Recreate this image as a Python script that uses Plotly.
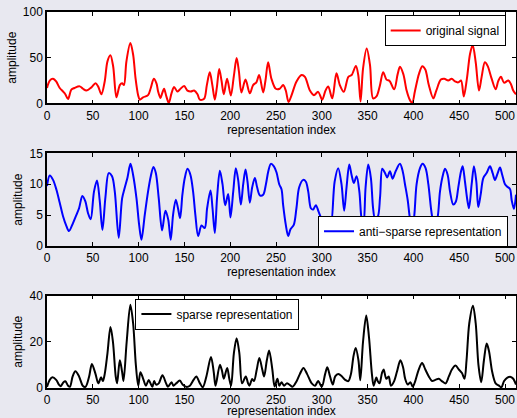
import plotly.graph_objects as go

# ---------------- data ----------------
orig_x = [0, 3, 6.6, 10, 13.9, 17.5, 20, 23, 26.6, 30, 35.7, 39.3, 43, 48.5, 52.9, 55.8, 59.4, 63, 66,
          69.2, 72.2, 75.8, 79.5, 82, 84, 86.7, 91, 94, 96.6, 99.5, 101.3, 104.9, 110.3, 113.3, 116.6,
          119.5, 121.3, 123.9, 125.7, 127.8, 130.3, 133, 135.9, 138.7, 142.3, 144.8, 149.7, 153.3, 157,
          160.6, 164.3, 166.8, 171.5, 174.5, 177.7, 180.5, 183.2, 185.5, 188, 190.5, 193, 196.6, 200.7,
          204, 207, 209.5, 212.3, 216.7, 221.4, 225, 228.6, 231.6, 236, 238.5, 241.4, 245, 249.8, 254,
          257.8, 260.7, 263.7, 267, 272.4, 278, 281.6, 287, 291.4, 296, 300.4, 304, 307, 311.4, 316,
          319.7, 324, 329, 332.6, 337.2, 339.8, 342.3, 345, 349, 352.6, 356, 359.7, 363.3, 367, 370.6,
          374, 379, 382.8, 385.3, 389, 392.6, 396, 398.7, 401.6, 406, 409.7, 413, 416.8, 421.7, 425,
          430, 433.7, 438, 441.8, 445.4, 449, 452, 455, 458.4, 461.8, 464.7, 468, 471.6, 474.5, 478,
          481, 485.4, 489.8, 492.7, 495.6, 499, 503.6, 506.5, 509, 512]
orig_y = [16.8, 25, 27, 24, 16.8, 13, 10, 4.8, 15, 16.8, 18.6, 16, 14, 17.5, 22, 18.6, 10, 24, 46,
          52.7, 40.6, 6.6, 20, 22, 20, 46, 66, 53.5, 28, 9, 4, 6.6, 9, 16.8, 27,
          22, 13, 5.8, 11, 16, 7.6, 0.5, 11, 18, 13, 15, 19, 14, 13,
          14, 10, 4, 5, 20, 34, 20, 4, 18, 37.6, 25, 10, 27, 8.6,
          30, 49.6, 35, 12, 26, 11, 20, 23, 31, 12, 25, 45, 27, 16, 16,
          20, 14, 1.5, 9, 24, 31, 29, 14, 9, 12.6, 4, 14, 18.5, 5.5, 33,
          20, 12.6, 29, 31, 41, 31, 2, 38, 60, 42, 5.5, 7.6, 19, 34, 26,
          24.6, 15.4, 32, 40, 32, 14, 4, 0.5, 13, 32, 40.6, 37, 20, 5.5, 14,
          26, 27, 25, 27, 24, 23, 25, 7.6, 27, 54, 64, 45, 14, 29, 45,
          41, 27, 15.4, 24.6, 29, 22.6, 25, 21, 14, 10]

anti_x = [0, 3, 6.6, 10.3, 13.9, 17.5, 21.2, 24, 28.4, 32, 35, 38.6, 41.9, 44.8, 47.7, 51.3, 54.6,
          57.5, 60.5, 63.8, 67.4, 71, 74, 78.3, 82, 85, 87.9, 91.1, 94, 97.7, 100.6, 103.1, 106.7,
          110.3, 113.3, 116.2, 118.8, 122, 125.6, 129.3, 132.3, 135.1, 137.6, 140.6, 143, 145.3,
          147.8, 150.4, 153.4, 156.6, 159.5, 162, 165, 168.7, 172.2, 174.8, 178.5, 180.7, 183.2,
          185.7, 188.7, 191.6, 194.5, 197.8, 200.3, 203.3, 206.1, 208.7, 211.6, 214.2, 216.7, 218.9,
          221.4, 224, 226.9, 229.4, 232.4, 236, 239, 241.6, 244.4, 247.7, 250.6, 253.5, 256, 257.8,
          260.7, 263.3, 265.8, 269.4, 272.3, 275.3, 279.7, 282.6, 285.2, 288.1, 290.6, 293.5, 296.4,
          299.8, 303, 307, 310, 314, 317.9, 321.5, 324.4, 327, 330, 332.5, 335, 338, 341, 343.5, 345.5,
          347.8, 350.7, 353.6, 356, 358, 361, 363.6, 366, 369, 371.4, 374.4, 377.3, 380.6, 385.3,
          388.3, 390.8, 393.8, 396.3, 399, 401, 403.5, 407.2, 410, 413.3, 416.3, 419.2, 421, 423.5,
          426.5, 429, 431.6, 434.5, 437.4, 440, 443.5, 446.4, 449, 452, 453.8, 456.3, 458.9, 460.7,
          463.6, 466.1, 468.7, 470.8, 473.4, 476.3, 479.9, 483.6, 486.5, 489, 492, 494.5, 497, 500,
          502.5, 505.5, 507.3, 509.8, 512]
anti_y = [9.7, 11.4, 10.7, 9.1, 7, 4.8, 3.2, 2.4, 3.7, 5, 6.1, 8.1, 7.2, 5.3, 4.3, 8.8, 10.6,
          7.4, 2.6, 7.9, 11.8, 11.3, 8.8, 1.3, 7.7, 9.5, 11.1, 13.3, 11.5, 7.7, 3.4, 1, 5,
          8.8, 11.3, 12.8, 11.8, 7.7, 2.5, 5.7, 4.3, 1, 5, 7.5, 6.1, 4.5,
          8.3, 11, 12.5, 11.5, 8.8, 5, 1.6, 3.3, 2.9, 6.1, 9, 6.1, 2.1,
          7.9, 12.2, 10, 6.6, 8.4, 4.6, 8.8, 12.6, 10.7, 6.7, 10, 12.4, 10.4,
          7, 9.5, 11, 9.5, 8.2, 8.3, 10, 12.1, 13.3, 12.9, 11.9, 10, 9.2, 6.6,
          3.4, 1.6, 2.7, 3.4, 6.1, 9.5, 10.7, 10.4, 8.8, 6.1, 5.9, 6.6, 5.6,
          4.3, 3.6, 4.6, 3.5, 10.4, 12.6, 10, 5.7, 9.5, 13.2, 11.5, 10.2, 11.3, 8.8, 4.3, 3.5,
          9.5, 13.2, 11, 6.1, 4.5, 4.7, 7.9, 12.5, 11.8, 11.1, 12.1, 10.9, 12.1, 13.3,
          12.1, 10, 7.4, 4.4, 3, 5, 10, 12.6, 13.3, 12.6, 10, 6.1, 4.3, 3.2,
          4.7, 8.8, 11.1, 12.5, 11.5, 8.8, 6.7, 7.2, 9.5, 12.1, 12.9, 10.4, 7.4, 6.1,
          10, 12.9, 10.4, 6.3, 8.3, 11, 11.8, 12.9, 11.8, 10.7, 11.8, 12.7, 11.5, 10,
          9.6, 9.2, 7.4, 6, 8.3]

sparse_x = [0, 3, 6, 10, 13, 15, 18, 20, 23, 25, 28, 31, 35, 39, 42, 46, 49, 53, 56, 59, 61, 63, 66,
            69.3, 72, 75, 76.5, 79.5, 82, 83.5, 87, 91, 94, 97, 99.6, 102, 105, 108, 111, 113, 115,
            117, 119, 122, 126, 130, 132, 136, 138, 141, 145, 148, 152, 156, 160, 163, 167, 170,
            174, 179, 182, 184, 188.7, 191, 193, 196.7, 199, 201, 204, 207, 210, 213, 217, 219.5,
            221, 224, 226, 229, 231.8, 235, 237, 240, 242.5, 246, 248.5, 251.5, 253.6, 256, 258.8,
            261.7, 264.6, 268, 272.6, 276, 280, 284, 289, 292.7, 296, 300, 303.6, 306, 309, 312,
            314.6, 318, 322, 325.5, 329, 331.8, 334.7, 337, 340, 342, 345, 348.5, 351.5, 354.7,
            356.6, 359.5, 361, 363, 365.7, 367.5, 370.4, 373, 375.5, 379, 382, 385.8, 388.7, 391,
            393.8, 396.7, 399.3, 402, 405.8, 409.5, 413, 416.8, 420.4, 424, 427.7, 431, 435, 438.7,
            442, 446, 449.6, 453, 455.8, 458, 461, 465, 468, 471, 474, 477, 480, 482.5, 486, 489.8,
            493.4, 496, 499, 502.6, 506.3, 509, 512]
sparse_y = [0.5, 3.5, 4.6, 3.5, 1.5, 0.8, 2.5, 2.9, 1, 0.5, 5, 7.2, 5, 1, 0.5, 5, 10.4, 6, 2, 4.6, 3, 6, 15,
            26.4, 20, 5, 2, 12, 7, 3, 20, 36, 28, 10, 1, 6.8, 4, 1, 3.5, 2, 0.5,
            3, 1.5, 2, 5.5, 2, 0.5, 2.5, 1, 2, 3.2, 1.5, 0.5, 1, 3.5, 5, 2, 0.3,
            5, 13.4, 7, 1, 10, 7.5, 4, 8.7, 4, 1, 15, 21.5, 15, 2, 5, 2,
            1, 3.9, 3, 8, 13, 8, 5, 12, 16.2, 8, 0.7, 4, 1, 2.5, 1,
            2, 1.5, 0.5, 3, 6, 8.7, 6, 2, 1, 3, 0.5, 6, 9, 5, 1.5,
            5, 6, 5, 3.5, 3, 6, 14, 17.3, 12, 3.3, 20, 31.3, 22, 6,
            1, 4.5, 3, 2, 6.5, 8, 4, 5, 1, 3, 7, 12, 9, 4,
            1.5, 2.5, 0.5, 3, 8, 10.8, 8, 5, 3, 3.5, 4, 3, 2, 5,
            8, 9.7, 8, 6.5, 4, 12, 28, 35.6, 28, 10, 2.5, 12, 19.2, 16, 7, 2,
            1, 0.3, 3, 4.5, 4.8, 4, 1.5]

x_ticks = [0, 50, 100, 150, 200, 250, 300, 350, 400, 450, 500]
y1_ticks = [0, 50, 100]
y2_ticks = [0, 5, 10, 15]
y3_ticks = [0, 20, 40]

# ---------------- figure ----------------
BG = "rgb(232,232,240)"
FONT = "Liberation Sans, Arial, Helvetica, sans-serif"

fig = go.Figure()
fig.add_trace(go.Scatter(x=orig_x, y=orig_y, mode="lines", name="original signal", showlegend=True,
                         line=dict(color="#ff0000", width=2, shape="spline", smoothing=0.9),
                         xaxis="x", yaxis="y", legend="legend"))
fig.add_trace(go.Scatter(x=anti_x, y=anti_y, mode="lines", name="anti\u2212sparse representation",
                         showlegend=True,
                         line=dict(color="#0000ff", width=2, shape="spline", smoothing=0.9),
                         xaxis="x2", yaxis="y2", legend="legend2"))
fig.add_trace(go.Scatter(x=sparse_x, y=sparse_y, mode="lines", name="sparse representation",
                         showlegend=True,
                         line=dict(color="#000000", width=2, shape="spline", smoothing=0.9),
                         xaxis="x3", yaxis="y3", legend="legend3"))

common = dict(showline=True, linecolor="black", linewidth=1.5, mirror="ticks",
              ticks="inside", ticklen=4, tickwidth=1, tickcolor="black", automargin=False,
              showgrid=False, zeroline=False, tickfont=dict(size=12, color="black", family=FONT))

def xax(anchor):
    return dict(common, anchor=anchor, domain=[0, 1], range=[0, 512], tickvals=x_ticks,
                title=dict(text="representation index", standoff=0,
                           font=dict(size=12, color="black", family=FONT)))

def yax(anchor, dom, rng, tv):
    return dict(common, anchor=anchor, domain=dom, range=rng, tickvals=tv,
                title=dict(text="amplitude", standoff=4,
                           font=dict(size=12, color="black", family=FONT)))

legend_common = dict(bgcolor="white", bordercolor="black", borderwidth=1,
                     font=dict(size=12, color="black", family=FONT),
                     itemwidth=30, tracegroupgap=0, visible=True)

fig.update_layout(
    width=517, height=418,
    margin=dict(l=47, r=1, t=12, b=30, autoexpand=False),
    paper_bgcolor=BG, plot_bgcolor=BG, showlegend=True,
    font=dict(family=FONT, size=12, color="black"),
    xaxis=xax("y"), yaxis=yax("x", [0.757, 1.0], [0, 100], y1_ticks),
    xaxis2=xax("y2"), yaxis2=yax("x2", [0.378, 0.624], [0, 15], y2_ticks),
    xaxis3=xax("y3"), yaxis3=yax("x3", [0.0, 0.246], [0, 40], y3_ticks),
    legend=dict(legend_common, x=0.978, y=0.992, xanchor="right", yanchor="top"),
    legend2=dict(legend_common, x=0.983, y=0.458, xanchor="right", yanchor="top"),
    legend3=dict(legend_common, x=0.1885, y=0.238, xanchor="left", yanchor="top"),
    shapes=[
        dict(type="rect", xref="x domain", yref="y domain", x0=0, x1=1, y0=0, y1=1,
             fillcolor="white", line=dict(width=0), layer="below"),
        dict(type="rect", xref="x3 domain", yref="y3 domain", x0=0, x1=1, y0=0, y1=1,
             fillcolor="white", line=dict(width=0), layer="below"),
    ],
)

fig.write_html("out.html", config={"displayModeBar": False},
               post_script="document.body.style.margin='0';document.body.style.overflow='hidden';")
